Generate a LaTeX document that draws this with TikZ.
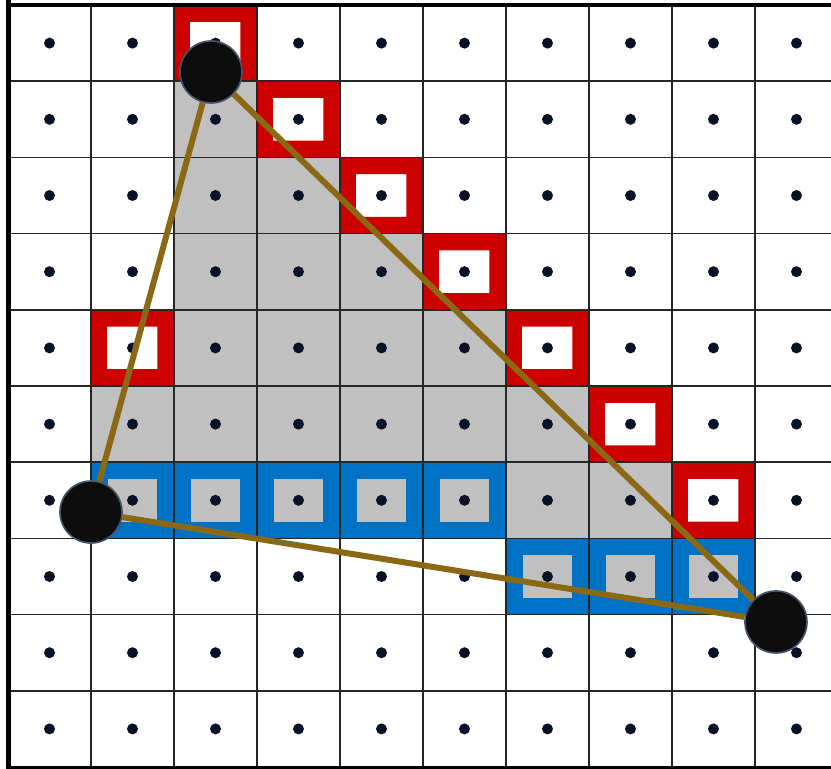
\documentclass[tikz,border=0pt]{standalone}
\usepackage{tikz}

\definecolor{cellred}{RGB}{205,0,0}
\definecolor{cellblue}{RGB}{0,114,198}
\definecolor{cellgray}{RGB}{192,192,192}
\definecolor{dotblue}{RGB}{8,18,38}
\definecolor{edgegold}{RGB}{139,105,20}
\definecolor{rimslate}{RGB}{70,85,105}

\begin{document}
\begin{tikzpicture}[x=2.49cm, y=2.286cm,
  redframe/.style={fill=cellred, even odd rule},
  gridline/.style={line width=0.045cm, black!85},
  vertex/.style={circle, fill=black!95, draw=rimslate, line width=0.05cm,
    minimum size=1.86cm, inner sep=0pt},
  edge/.style={line width=0.18cm, edgegold}]
\useasboundingbox (-0.0964,-0.026) rectangle (9.916,10.066);
\fill[white] (-0.0964,-0.026) rectangle (9.916,10.066);
% covered cells
\fill[cellgray] (2,9) -- (3,9) -- (3,8) -- (4,8) -- (4,7) -- (5,7) -- (5,6)
  -- (6,6) -- (6,5) -- (7,5) -- (7,4) -- (8,4) -- (8,3) -- (6,3) -- (6,4)
  -- (1,4) -- (1,5) -- (2,5) -- cycle;
\fill[cellblue] (1,3) rectangle (6,4);
\fill[cellblue] (6,2) rectangle (9,3);
\foreach \i/\j in {1/3,2/3,3/3,4/3,5/3,6/2,7/2,8/2}
  \fill[cellgray] (\i+0.21,\j+0.22) rectangle (\i+0.79,\j+0.78);
% edge cells
\foreach \i/\j in {2/9,3/8,4/7,5/6,1/5,6/5,7/4,8/3}
  \fill[redframe] (\i,\j) rectangle +(1,1) (\i+0.19,\j+0.22) rectangle (\i+0.8,\j+0.78);
\draw[gridline, step=1] (0,0) grid (10,10);
\draw[line width=0.15cm] (0,-0.1) -- (0,10.1);
\draw[line width=0.12cm] (0,10) -- (10,10);
\draw[line width=0.09cm] (0,0) -- (10,0);
% pixel centres
\foreach \i in {0,...,9}
  \foreach \j in {0,...,9}
    \fill[dotblue] (\i+0.5,\j+0.5) circle (0.165cm);
\node[vertex] (v1) at (2.446,9.121) {};
\node[vertex] (v2) at (1.0,3.346) {};
\node[vertex] (v3) at (9.253,1.903) {};
\draw[edge] (v1) -- (v2);
\draw[edge] (v2) -- (v3);
\draw[edge] (v3) -- (v1);
\end{tikzpicture}
\end{document}
